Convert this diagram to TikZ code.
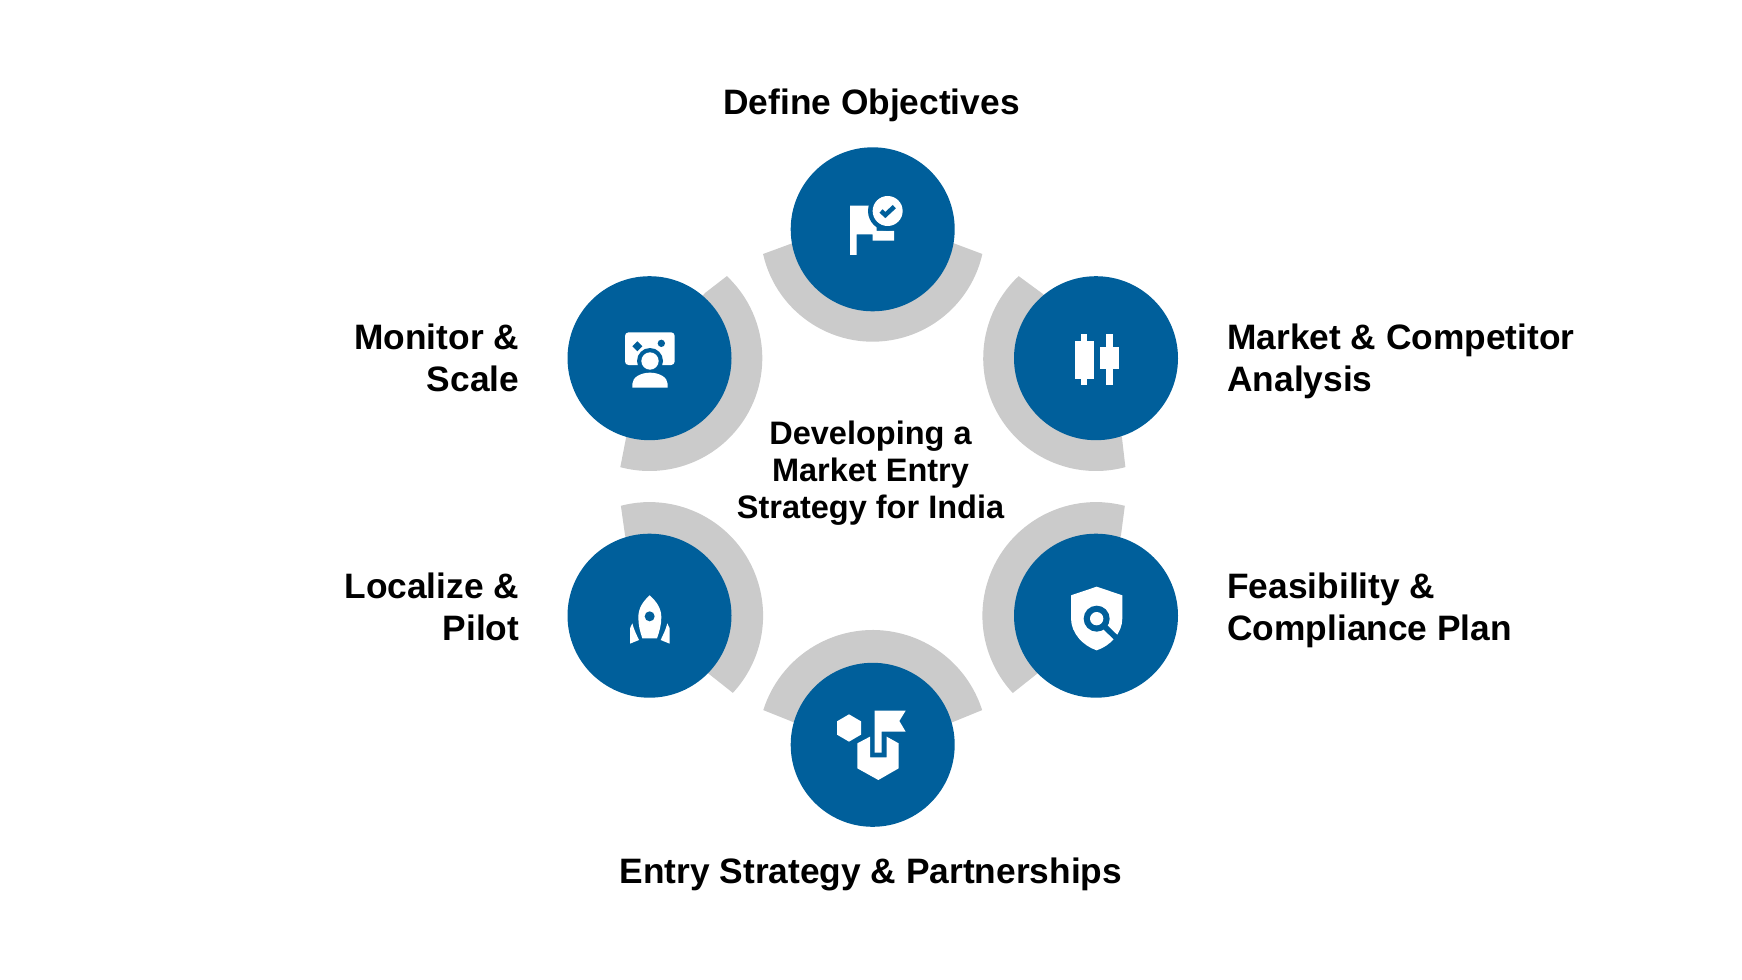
\documentclass[tikz,border=0pt]{standalone}
\usepackage{fontspec}
\setmainfont{Liberation Sans}
\definecolor{stepblue}{RGB}{0,95,155}
\definecolor{ringgrey}{RGB}{203,203,203}
\tikzset{
  stepdisc/.style={circle,fill=stepblue,minimum size=164*.02cm,inner sep=0pt},
  steptext/.style={font=\fontsize{20.1}{22}\selectfont\bfseries,inner sep=0pt},
  hubtext/.style={font=\fontsize{18.5}{20}\selectfont\bfseries,inner sep=0pt,anchor=base},
  icon/.style={fill=white},
  iconcut/.style={fill=stepblue}
}
\begin{document}
\begin{tikzpicture}[x=.02cm,y=-.02cm]
\useasboundingbox(0,0)rectangle(1742,980);
%grey arcs
\foreach \cx/\cy/\rr/\a/\b/\ix/\iy/\jx/\jy in {
872.7/229.3/112.4/167.3/12.7/793/243/953/243,
1096/358.2/112.8/226.7/74.9/1043/294/1122/438,
1096/615.7/113.6/284.7/137.1/1121/535/1038/673,
872.7/744.8/114.8/197.6/342.4/793/722/953/722,
649.5/615.7/113.6/255.4/402.8/625/535/709/674,
649.5/358.2/112.8/-46.7/105/705/293/626/438}{
\fill[ringgrey](\cx,\cy)++(\a:\rr)arc[start angle=\a,end angle=\b,radius=\rr]--(\jx,\jy)--(\cx,\cy)--(\ix,\iy)--cycle;
}
%discs
\node[stepdisc](define)at(872.7,229.3){};
\node[stepdisc](market)at(1096,358.2){};
\node[stepdisc](feasible)at(1096,615.7){};
\node[stepdisc](entry)at(872.7,744.8){};
\node[stepdisc](localize)at(649.5,615.7){};
\node[stepdisc](monitor)at(649.5,358.2){};
%flag
\begin{scope}[shift={(760,130)},scale=1/3]
\fill[icon](270,227)--(350,227)--(350,303)--(402,303)--(402,332)--(338,332)--(338,313)--(290,313)--(290,375)--(270,375)--cycle;
\fill[iconcut](383,243)circle(59);
\fill[icon](383,243)circle(45);
\draw[stepblue,line width=2.6pt](363,243)--(376,255)--(403,230);
\end{scope}
%candles
\begin{scope}[shift={(970,260)},scale=1/3]
\fill[icon](314,242)rectangle(372,356);
\fill[icon](333,223)rectangle(352,375);
\fill[icon](390,262)rectangle(447,328);
\fill[icon](409,223)rectangle(428,375);
\end{scope}
%shield
\begin{scope}[shift={(970,490)},scale=1/3]
\fill[icon](380,290)--(457,316)--(457,385)..controls(457,430)and(420,468)..(380,481)..controls(340,468)and(303,430)..(303,385)--(303,316)--cycle;
\draw[stepblue,line width=3.2pt](380,386)--(443,448);
\fill[iconcut](380,386)circle(39);
\fill[icon](380,386)circle(20);
\end{scope}
%hexagons
\begin{scope}[shift={(760,620)},scale=1/3]
\fill[icon](267,283)--(303,304)--(303,344)--(267,365)--(231,344)--(231,304)--cycle;
\fill[icon](330,350)--(330,412)--(380,412)--(380,350)--(416,370)--(416,445)--(355,480)--(292,445)--(292,370)--cycle;
\fill[icon](344,272)--(437,272)--(418,303)--(437,335)--(365,335)--(365,398)--(344,398)--cycle;
\end{scope}
%rocket
\begin{scope}[shift={(550,490)},scale=1/3]
\fill[icon](299,316)..controls(320,335)and(334,355)..(334,382)..controls(334,405)and(328,425)..(321,445)--(277,445)..controls(270,425)and(265,405)..(265,382)..controls(265,355)and(278,335)..(299,316)--cycle;
\fill[iconcut](299,379)circle(15);
\fill[icon](247,400)--(240,415)--(240,461)--(267,450)..controls(260,435)and(252,420)..(247,400)--cycle;
\fill[icon](352,400)--(359,415)--(359,461)--(332,450)..controls(339,435)and(347,420)..(352,400)--cycle;
\end{scope}
%screen and person
\begin{scope}[shift={(550,260)},scale=1/3]
\fill[icon,rounded corners=2pt](225,217)rectangle(374,315);
\fill[iconcut](262,244)--(277,259)--(262,274)--(247,259)--cycle;
\fill[iconcut](334,250)circle(11);
\fill[iconcut](300,303)circle(39);
\fill[icon](300,303)circle(26);
\fill[icon](247,383)--(247,372)..controls(247,352)and(272,338)..(300,338)..controls(328,338)and(353,352)..(353,372)--(353,383)--cycle;
\end{scope}
%labels
\node[steptext,anchor=base](t1)at(871.5,115){Define Objectives};
\node[steptext,anchor=base west](t2)at(1227,349){Market \& Competitor};
\node[steptext,anchor=base west](t3)at(1227,391){Analysis};
\node[steptext,anchor=base west](t4)at(1227,598){Feasibility \&};
\node[steptext,anchor=base west](t5)at(1227,640){Compliance Plan};
\node[steptext,anchor=base](t6)at(871,883){Entry Strategy \& Partnerships};
\node[steptext,anchor=base east](t7)at(519.5,598){Localize \&};
\node[steptext,anchor=base east](t8)at(519.5,640){Pilot};
\node[steptext,anchor=base east](t9)at(519.5,349){Monitor \&};
\node[steptext,anchor=base east](t10)at(519.5,391){Scale};
%centre title
\node[hubtext](c1)at(870.5,444){Developing a};
\node[hubtext](c2)at(870.5,481){Market Entry};
\node[hubtext](c3)at(870.5,518){Strategy for India};
\end{tikzpicture}
\end{document}
